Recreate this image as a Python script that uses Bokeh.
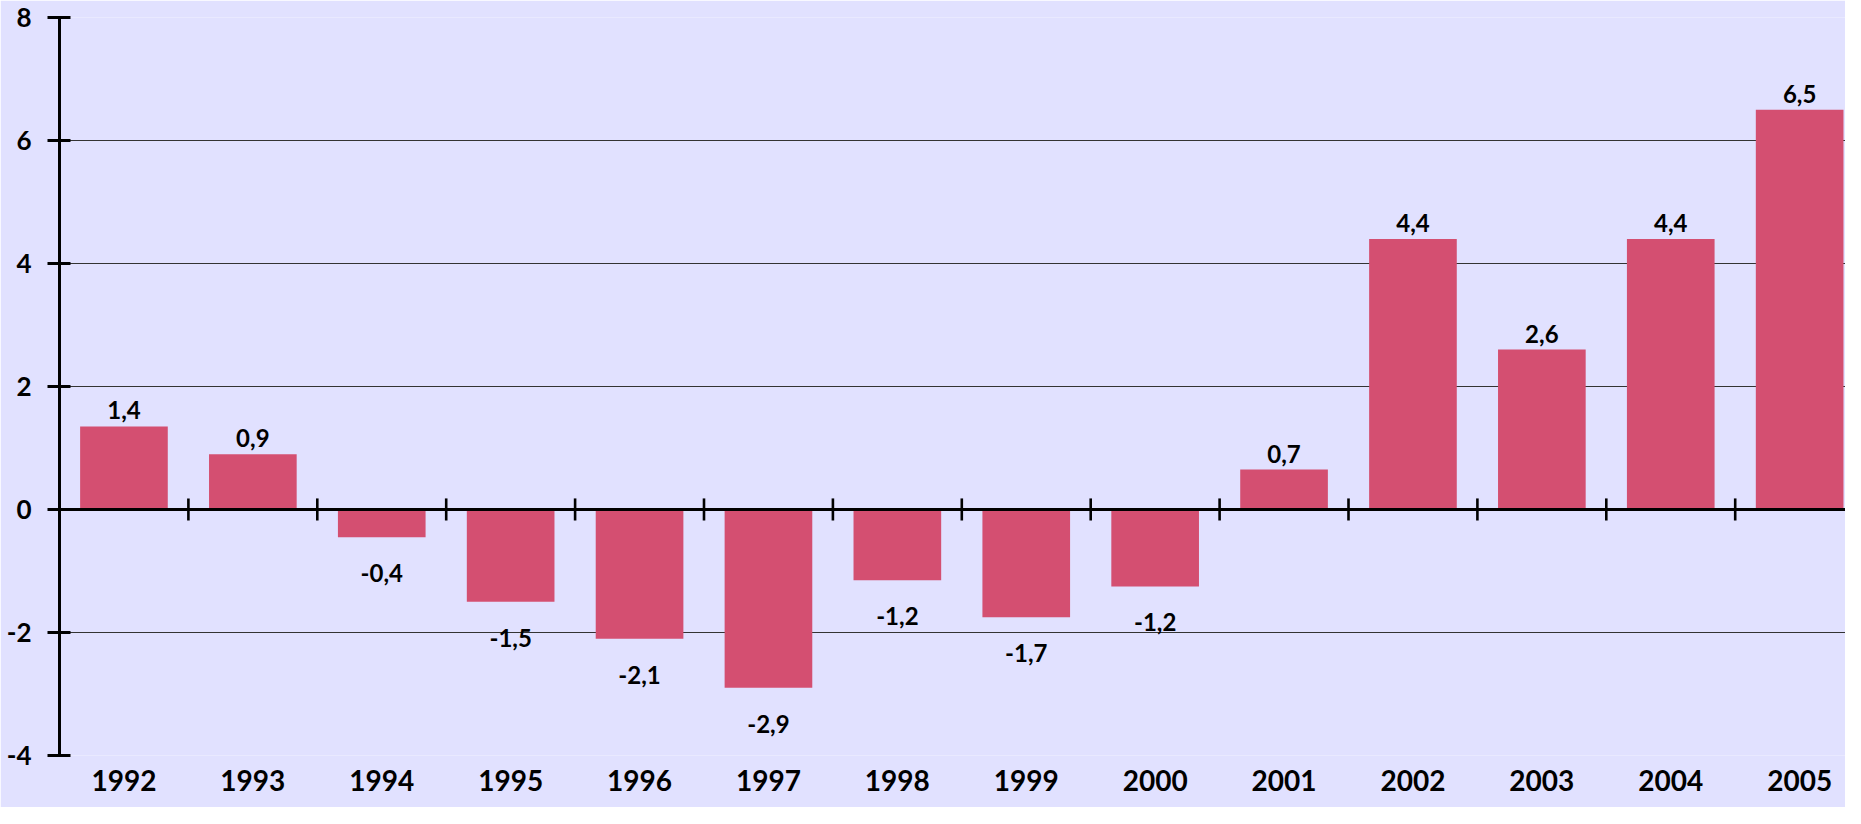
from bokeh.plotting import figure
from bokeh.models import ColumnDataSource, FixedTicker, Span, Range1d
from bokeh.embed import file_html
from bokeh.resources import INLINE
from bokeh.core.properties import value

# ---- data ----
years = [1992, 1993, 1994, 1995, 1996, 1997, 1998, 1999, 2000, 2001, 2002, 2003, 2004, 2005]
growth = [1.35, 0.9, -0.45, -1.5, -2.1, -2.9, -1.15, -1.75, -1.25, 0.65, 4.4, 2.6, 4.4, 6.5]
labels = ["1,4", "0,9", "-0,4", "-1,5", "-2,1", "-2,9", "-1,2", "-1,7", "-1,2",
          "0,7", "4,4", "2,6", "4,4", "6,5"]
y_ticks = [-4, -2, 0, 2, 4, 6, 8]
y_tick_labels = ["-4", "-2", "0", "2", "4", "6", "8"]

# ---- style ----
BG = "#E1E1FF"
BAR = "#D44F71"
FONT = "Lato"
CAT_PX = 128.9
FRAME_W = 1786
FRAME_H = 738

offsets = [-16 if v >= 0 else 36 for v in growth]
src = ColumnDataSource(dict(x=years, top=growth, label=labels, yoff=offsets))

x_start = years[0] - 0.5
p = figure(frame_width=FRAME_W, frame_height=FRAME_H,
           x_range=Range1d(x_start, x_start + FRAME_W / CAT_PX),
           y_range=Range1d(y_ticks[0], y_ticks[-1]),
           output_backend="svg", toolbar_location=None,
           min_border_left=59, min_border_right=0, min_border_top=17, min_border_bottom=52)

p.background_fill_color = BG
p.border_fill_color = BG
p.outline_line_color = None

p.xgrid.visible = False
p.ygrid.ticker = FixedTicker(ticks=y_ticks)
p.ygrid.grid_line_color = "#333333"
p.ygrid.grid_line_width = 1

ya = p.yaxis[0]
ya.ticker = FixedTicker(ticks=y_ticks)
ya.major_label_overrides = {t: s for t, s in zip(y_ticks, y_tick_labels)}
ya.axis_line_width = 3
ya.axis_line_color = "black"
ya.major_tick_line_width = 3
ya.major_tick_line_color = "black"
ya.major_tick_in = 11
ya.major_tick_out = 12
ya.minor_tick_line_color = None
ya.major_label_standoff = 16
ya.major_label_text_font = FONT
ya.major_label_text_font_style = "bold"
ya.major_label_text_font_size = "26px"
ya.major_label_text_color = "black"

xa = p.xaxis[0]
xa.ticker = FixedTicker(ticks=years)
xa.major_label_overrides = {y: str(y) for y in years}
xa.axis_line_color = None
xa.major_tick_line_color = None
xa.minor_tick_line_color = None
xa.major_tick_in = 0
xa.major_tick_out = 0
xa.major_label_standoff = 14
xa.major_label_text_font = FONT
xa.major_label_text_font_style = "bold"
xa.major_label_text_font_size = "28px"
xa.major_label_text_color = "black"

p.vbar(x="x", top="top", bottom=0, width=0.68, source=src,
       fill_color=BAR, line_color=None)

p.text(x="x", y="top", text="label", y_offset="yoff", source=src,
       text_align="center", text_baseline="alphabetic",
       text_font=value(FONT), text_font_style="bold", text_font_size="24px",
       text_color="black")

p.add_layout(Span(location=0, dimension="width", line_color="black", line_width=3))

bounds = [y + 0.5 for y in years]
p.segment(x0=bounds, y0=-0.18, x1=bounds, y1=0.18, line_color="black", line_width=2.6)

open("out.html", "w").write(file_html(p, INLINE))
